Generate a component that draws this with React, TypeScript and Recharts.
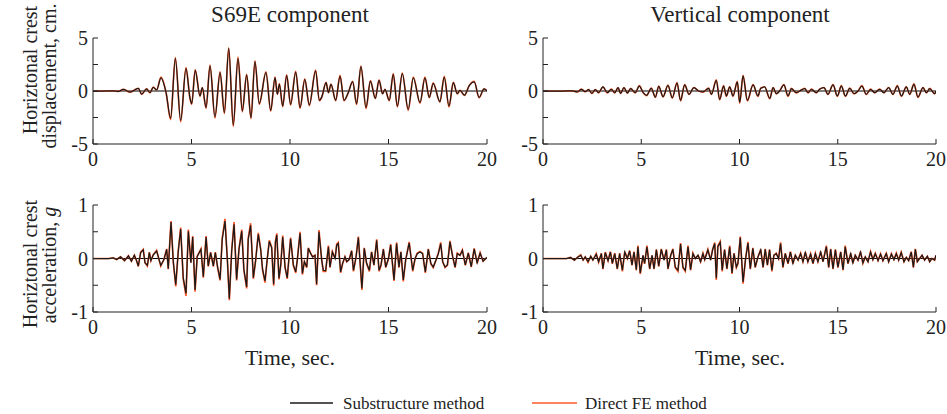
import React from "react";
import { LineChart, Line, XAxis, YAxis, ReferenceLine } from "recharts";

const SERIF = "'Liberation Serif', 'Times New Roman', serif";
const BLACK = "#1a1a1a";
const ORANGE = "#ff5a2a";

// ---------- Top-left: horizontal crest displacement, S69E component (cm) ----------
const dispS69ETime = [0,0.5,1.0,1.3,1.54,1.88,2.3,2.47,2.72,2.89,3.06,3.23,3.45,3.71,3.94,4.18,4.45,4.72,4.92,5.01,5.19,5.43,5.55,5.74,5.94,6.19,6.45,6.67,6.89,7.12,7.36,7.58,7.8,8.02,8.22,8.44,8.78,9.02,9.24,9.36,9.46,9.63,9.83,10.03,10.29,10.51,10.75,10.98,11.3,11.49,11.61,11.83,11.95,12.08,12.32,12.54,12.74,12.96,13.18,13.38,13.6,13.86,14.08,14.33,14.52,14.7,14.82,15.04,15.24,15.45,15.7,16.0,16.26,16.6,16.85,17.07,17.27,17.61,17.83,18.07,18.29,18.49,18.63,18.85,19.1,19.35,19.6,19.85,20];
const dispS69ESub = [0,0,0.02,-0.03,0.15,-0.1,0.25,-0.3,0.2,-0.15,0.35,0.1,1.25,-0.15,-2.58,3.08,-2.77,2.13,-0.63,-1.2,1.95,-0.47,0.31,-1.57,2.36,-2.45,1.73,-2.05,4.02,-3.21,3.08,-1.89,1.51,-2.52,2.76,-1.2,1.73,-1.83,1.25,-0.3,0.66,-1.42,1.47,-1.26,1.79,-1.57,1.1,-1.32,1.89,-0.88,-0.57,0.78,-0.15,0.62,-0.88,1.41,-0.88,-0.15,0.88,-1.2,2.29,-1.57,0.94,-0.69,1.0,-0.25,0.15,-0.88,1.57,-1.42,1.63,-1.73,1.25,-1.1,1.25,-0.6,0.72,-1.0,1.32,-1.42,0.78,-0.25,0.06,-0.4,0.5,0.85,-0.6,0.2,0];
const dispS69EFE = [0,0,0.02,-0.03,0.16,-0.11,0.26,-0.32,0.21,-0.16,0.37,0.1,1.3,-0.16,-2.7,3.15,-2.92,2.2,-0.66,-1.25,2.02,-0.5,0.33,-1.63,2.45,-2.55,1.8,-2.12,4.08,-3.35,3.2,-1.96,1.58,-2.6,2.85,-1.25,1.8,-1.9,1.3,-0.32,0.7,-1.48,1.53,-1.32,1.86,-1.64,1.15,-1.38,1.96,-0.92,-0.6,0.82,-0.16,0.65,-0.92,1.47,-0.92,-0.16,0.92,-1.26,2.36,-1.65,0.98,-0.72,1.05,-0.27,0.16,-0.92,1.64,-1.5,1.7,-1.82,1.31,-1.16,1.3,-0.63,0.76,-1.05,1.38,-1.5,0.82,-0.27,0.06,-0.42,0.53,0.9,-0.64,0.21,0];

// ---------- Top-right: horizontal crest displacement, vertical component (cm) ----------
const dispVertTime = [0,1.0,1.5,1.75,1.95,2.15,2.32,2.49,2.66,2.83,3.05,3.27,3.48,3.65,3.82,3.95,4.12,4.29,4.46,4.7,4.9,5.1,5.27,5.51,5.72,5.89,6.11,6.36,6.58,6.82,7.0,7.21,7.43,7.68,7.92,8.14,8.43,8.57,8.82,8.99,9.19,9.33,9.5,9.67,9.89,10.01,10.18,10.4,10.69,10.94,11.08,11.28,11.54,11.71,11.88,12.04,12.26,12.47,12.64,12.89,13.06,13.32,13.49,13.66,13.91,14.08,14.3,14.5,14.76,14.98,15.18,15.39,15.61,15.83,16.03,16.23,16.45,16.67,16.88,17.13,17.35,17.59,17.81,18.03,18.24,18.49,18.66,18.88,19.08,19.34,19.51,19.68,19.93,20];
const dispVertSub = [0,0,0.02,-0.08,0.16,-0.06,0.13,-0.22,0.13,-0.16,0.38,-0.16,0.16,-0.16,0.31,-0.22,0.31,-0.19,0.22,-0.16,0.47,-0.16,-0.41,0.25,-0.57,0.44,-0.53,0.53,-0.63,0.75,-0.88,0.57,-0.31,0.31,0.0,-0.09,0.25,-0.31,1.0,-0.79,0.47,-0.47,0.38,-0.47,0.85,-1.1,1.42,-0.88,0.57,-0.47,0.25,0.38,-0.69,0.31,-0.25,0,0.57,-0.47,0.22,-0.16,0,0.22,-0.16,0.16,-0.16,0.16,0.31,-0.31,0.57,-0.47,0.47,-0.47,0.25,-0.25,0,0.47,-0.31,0.16,-0.16,0.16,-0.16,0.31,-0.31,0.47,-0.47,0.38,-0.31,0.63,-0.57,0.31,-0.16,0.22,-0.25,0];
const dispVertFE = [0,0,0.02,-0.09,0.17,-0.07,0.14,-0.24,0.14,-0.17,0.4,-0.18,0.17,-0.17,0.33,-0.24,0.33,-0.2,0.24,-0.17,0.5,-0.17,-0.44,0.27,-0.6,0.47,-0.56,0.56,-0.67,0.79,-0.93,0.6,-0.33,0.33,0.0,-0.1,0.27,-0.33,1.05,-0.84,0.5,-0.5,0.4,-0.5,0.9,-1.16,1.48,-0.93,0.6,-0.5,0.27,0.4,-0.73,0.33,-0.27,0,0.6,-0.5,0.24,-0.17,0,0.24,-0.17,0.17,-0.17,0.17,0.33,-0.33,0.6,-0.5,0.5,-0.5,0.27,-0.27,0,0.5,-0.33,0.17,-0.17,0.17,-0.17,0.33,-0.33,0.5,-0.5,0.4,-0.33,0.67,-0.6,0.33,-0.17,0.24,-0.27,0];

// ---------- Bottom-left: horizontal crest acceleration, S69E component (g) ----------
const accS69ETime = [0,0.8,1.03,1.2,1.4,1.6,1.8,1.95,2.1,2.2,2.3,2.42,2.55,2.64,2.76,2.86,2.94,3.06,3.23,3.44,3.6,3.74,3.82,3.96,4.08,4.2,4.33,4.45,4.58,4.72,4.84,4.97,5.06,5.18,5.29,5.48,5.6,5.74,5.85,5.97,6.11,6.21,6.33,6.45,6.56,6.7,6.82,6.92,7.04,7.16,7.29,7.41,7.55,7.66,7.8,7.88,8.0,8.14,8.26,8.39,8.51,8.61,8.73,8.85,8.95,9.07,9.17,9.26,9.33,9.44,9.53,9.63,9.75,9.86,10.03,10.17,10.29,10.37,10.51,10.63,10.73,10.85,10.93,11.05,11.15,11.27,11.35,11.47,11.61,11.69,11.81,11.95,12.03,12.15,12.29,12.37,12.45,12.57,12.67,12.79,12.88,13.0,13.13,13.22,13.35,13.47,13.55,13.65,13.77,13.89,14.03,14.14,14.26,14.4,14.52,14.62,14.74,14.86,15.0,15.11,15.28,15.41,15.53,15.63,15.75,15.87,16.05,16.23,16.35,16.46,16.6,16.73,16.87,17.02,17.15,17.27,17.41,17.53,17.65,17.75,17.87,17.99,18.12,18.26,18.38,18.49,18.63,18.75,18.9,19.05,19.2,19.35,19.5,19.65,19.8,20];
const accS69ESub = [0,0,0.01,-0.02,0.03,-0.04,0.05,-0.05,0.06,-0.03,-0.14,0.11,0.16,-0.08,-0.13,0.11,-0.04,0.07,0.14,-0.13,-0.02,0.17,-0.19,0.68,-0.08,-0.49,0.14,0.55,-0.36,-0.65,0.51,-0.08,0.4,-0.59,0.04,0.17,-0.34,0.4,-0.14,0.11,-0.14,0.11,-0.17,-0.39,0.36,0.7,-0.02,-0.75,0.14,0.64,-0.39,0.17,0.51,-0.21,-0.53,0.36,0.62,-0.36,-0.02,0.45,0.17,-0.21,-0.42,0.01,0.32,0.2,-0.48,0.3,0.44,-0.37,-0.12,0.4,-0.16,-0.36,0.37,-0.12,-0.25,-0.03,0.47,-0.28,-0.06,-0.16,0.19,0.09,0.03,0.06,-0.48,0.5,-0.03,-0.22,-0.23,0.22,-0.16,0.12,0,0.25,0.28,-0.25,-0.09,0.03,-0.06,-0.02,0.14,-0.22,0.02,0.39,-0.03,-0.56,0.19,-0.09,-0.22,0.12,-0.12,0.34,-0.22,-0.12,0.17,-0.16,0,0.25,-0.4,0.28,-0.16,0.12,-0.4,-0.03,0.29,-0.22,0,0.09,0.12,0.09,-0.25,0.17,-0.09,-0.16,-0.03,0.09,0.28,-0.06,-0.16,-0.12,0.31,0.03,-0.16,0.09,0.06,0.15,-0.12,0.1,-0.15,0.18,-0.08,0.1,-0.05,0.02];
const accS69EFE = [0,0,0.01,-0.02,0.03,-0.04,0.05,-0.05,0.06,-0.03,-0.15,0.12,0.17,-0.08,-0.14,0.12,-0.04,0.07,0.15,-0.14,-0.02,0.18,-0.2,0.7,-0.08,-0.52,0.15,0.58,-0.38,-0.7,0.54,-0.08,0.42,-0.62,0.04,0.18,-0.36,0.42,-0.15,0.12,-0.15,0.12,-0.18,-0.41,0.38,0.74,-0.02,-0.78,0.15,0.68,-0.41,0.18,0.54,-0.22,-0.56,0.38,0.66,-0.38,-0.02,0.48,0.18,-0.22,-0.45,0.01,0.34,0.21,-0.51,0.32,0.47,-0.39,-0.13,0.43,-0.17,-0.38,0.39,-0.13,-0.27,-0.03,0.5,-0.3,-0.06,-0.17,0.2,0.1,0.03,0.06,-0.5,0.53,-0.03,-0.24,-0.24,0.24,-0.17,0.13,0,0.27,0.3,-0.27,-0.1,0.03,-0.06,-0.02,0.15,-0.24,0.02,0.41,-0.03,-0.59,0.2,-0.1,-0.24,0.13,-0.13,0.36,-0.24,-0.13,0.18,-0.17,0,0.27,-0.42,0.3,-0.17,0.13,-0.43,-0.03,0.31,-0.24,0,0.1,0.13,0.1,-0.27,0.18,-0.1,-0.17,-0.03,0.1,0.3,-0.06,-0.17,-0.13,0.33,0.03,-0.17,0.1,0.06,0.16,-0.13,0.11,-0.16,0.19,-0.09,0.11,-0.05,0.02];

// ---------- Bottom-right: horizontal crest acceleration, vertical component (g) ----------
const accVertTime = [0,1.2,1.4,1.6,1.78,1.92,2.04,2.15,2.29,2.43,2.54,2.71,2.83,2.97,3.05,3.17,3.31,3.43,3.53,3.65,3.78,3.9,4.04,4.16,4.29,4.41,4.53,4.63,4.75,4.83,4.95,5.09,5.17,5.29,5.43,5.55,5.65,5.77,5.89,6.02,6.16,6.28,6.36,6.5,6.61,6.73,6.87,7.0,7.12,7.24,7.38,7.51,7.63,7.75,7.89,8.02,8.14,8.23,8.39,8.53,8.63,8.74,8.82,8.9,9.02,9.12,9.24,9.36,9.5,9.62,9.72,9.84,9.92,10.04,10.18,10.3,10.43,10.55,10.68,10.8,10.94,11.08,11.2,11.31,11.42,11.53,11.65,11.75,11.87,11.99,12.09,12.21,12.33,12.47,12.59,12.72,12.84,12.98,13.11,13.23,13.35,13.48,13.62,13.74,13.86,13.99,14.13,14.25,14.42,14.54,14.64,14.76,14.88,15.01,15.15,15.27,15.38,15.52,15.66,15.77,15.89,16.03,16.16,16.28,16.4,16.54,16.67,16.79,16.91,17.05,17.18,17.3,17.47,17.59,17.73,17.86,17.98,18.1,18.23,18.37,18.49,18.61,18.74,18.85,18.95,19.05,19.17,19.29,19.42,19.56,19.68,19.79,19.93,20];
const accVertSub = [0,0,0.02,-0.03,0.03,0.06,-0.03,0.03,-0.06,0.04,-0.03,0.08,-0.06,0.09,-0.19,0.11,-0.04,0.12,-0.09,0.09,-0.19,0.09,-0.22,0.12,0,0.14,-0.12,0.12,-0.21,0.22,-0.27,0.06,-0.09,0.22,-0.19,0.06,-0.19,0.16,-0.14,0.17,-0.03,0.16,-0.19,0.06,0.17,-0.16,-0.22,0.27,-0.16,-0.22,0.22,-0.21,0.09,0,0.06,-0.06,0.09,-0.02,0.16,-0.03,0.16,0.28,-0.37,0.22,0.3,-0.22,0.16,-0.19,0.22,-0.27,0.09,-0.16,-0.09,0.39,-0.44,-0.03,0.29,-0.19,0.19,-0.16,0.03,0.16,-0.16,0.17,-0.12,0.16,-0.22,0.06,0.09,0,0.28,-0.16,0.09,-0.09,0.12,-0.09,0.06,-0.03,0.09,-0.06,0.11,-0.06,0.08,-0.09,0.09,-0.06,0.12,-0.06,0.22,-0.16,0.17,-0.19,0.16,-0.16,0.12,-0.21,0.22,-0.09,0.09,-0.08,0.06,-0.03,0.12,-0.08,0.03,-0.06,0.12,-0.02,0.09,-0.04,0.08,-0.04,0.09,-0.06,0.08,-0.02,0.09,-0.03,0.11,-0.06,0.02,-0.04,0.12,-0.16,0.17,-0.06,0,0.06,-0.03,0.04,-0.06,0,-0.03,0.06];
const accVertFE = [0,0,0.02,-0.03,0.03,0.07,-0.03,0.03,-0.07,0.04,-0.03,0.09,-0.07,0.1,-0.2,0.12,-0.04,0.13,-0.1,0.1,-0.2,0.1,-0.24,0.13,0,0.15,-0.13,0.13,-0.22,0.24,-0.29,0.06,-0.1,0.24,-0.2,0.06,-0.2,0.17,-0.15,0.18,-0.03,0.17,-0.2,0.06,0.18,-0.17,-0.24,0.29,-0.17,-0.24,0.24,-0.22,0.1,0,0.06,-0.06,0.1,-0.02,0.17,-0.03,0.17,0.3,-0.4,0.24,0.32,-0.24,0.17,-0.2,0.24,-0.29,0.1,-0.17,-0.1,0.41,-0.47,-0.03,0.31,-0.2,0.2,-0.17,0.03,0.17,-0.17,0.18,-0.13,0.17,-0.24,0.06,0.1,0,0.3,-0.17,0.1,-0.1,0.13,-0.1,0.06,-0.03,0.1,-0.06,0.12,-0.06,0.09,-0.1,0.1,-0.06,0.13,-0.06,0.24,-0.17,0.18,-0.2,0.17,-0.17,0.13,-0.22,0.24,-0.1,0.1,-0.09,0.06,-0.03,0.13,-0.09,0.03,-0.06,0.13,-0.02,0.1,-0.04,0.09,-0.04,0.1,-0.06,0.09,-0.02,0.1,-0.03,0.12,-0.06,0.02,-0.04,0.13,-0.17,0.18,-0.06,0,0.06,-0.03,0.04,-0.06,0,-0.03,0.06];

// ---------- Axis ticks / labels ----------
const xTicks = [0, 5, 10, 15, 20];
const dispTicks = [-5, -2.5, 0, 2.5, 5];
const dispTickLabels = [-5, 0, 5];
const accTicks = [-1, -0.5, 0, 0.5, 1];
const accTickLabels = [-1, 0, 1];
const panelTitles = ["S69E component", "Vertical component"];
const xAxisTitle = "Time, sec.";
const legendNames = ["Substructure method", "Direct FE method"];

function buildRows(t: number[], a: number[], b: number[]) {
  const n = Math.min(t.length, a.length, b.length);
  const rows: { t: number; sub: number; fe: number }[] = [];
  for (let i = 0; i < n; i++) rows.push({ t: t[i], sub: a[i], fe: b[i] });
  return rows;
}

const AXIS = "#222";
const TL = 5;

const BottomTick = (p: any) => (
  <g>
    <line x1={p.x} y1={p.y} x2={p.x} y2={p.y - TL} stroke={AXIS} strokeWidth={1} />
    <text x={p.x} y={p.y + 22} textAnchor="middle" fontSize={20} fontFamily={SERIF} fill={AXIS}>
      {p.payload.value}
    </text>
  </g>
);
const TopTick = (p: any) => (
  <line x1={p.x} y1={p.y} x2={p.x} y2={p.y + TL} stroke={AXIS} strokeWidth={1} />
);
const makeLeftTick = (labels: number[]) => (p: any) => (
  <g>
    <line x1={p.x} y1={p.y} x2={p.x + TL} y2={p.y} stroke={AXIS} strokeWidth={1} />
    {labels.includes(p.payload.value) ? (
      <text x={p.x - 5} y={p.y + 7} textAnchor="end" fontSize={20} fontFamily={SERIF} fill={AXIS}>
        {p.payload.value}
      </text>
    ) : null}
  </g>
);
const RightTick = (p: any) => (
  <line x1={p.x} y1={p.y} x2={p.x - TL} y2={p.y} stroke={AXIS} strokeWidth={1} />
);

type PanelProps = {
  px: number; py: number; pw: number; ph: number;
  rows: { t: number; sub: number; fe: number }[];
  yMax: number; yTicks: number[]; yLabels: number[];
  curve: "monotone" | "linear";
};

const YW = 53, MT = 10, MR = 10, XH = 32;

function Panel({ px, py, pw, ph, rows, yMax, yTicks, yLabels, curve }: PanelProps) {
  return (
    <div style={{ position: "absolute", left: px - YW, top: py - MT }}>
      <LineChart width={pw + YW + MR} height={ph + MT + XH} data={rows}
        margin={{ top: MT, right: MR, left: 0, bottom: 0 }}>
        <XAxis xAxisId="b" dataKey="t" type="number" domain={[0, 20]} ticks={xTicks} interval={0}
          allowDataOverflow tickSize={0} tickMargin={0} height={XH}
          axisLine={{ stroke: AXIS, strokeWidth: 1 }} tickLine={false} tick={BottomTick} />
        <XAxis xAxisId="t" orientation="top" dataKey="t" type="number" domain={[0, 20]} ticks={xTicks}
          interval={0} allowDataOverflow tickSize={0} tickMargin={0} height={0}
          axisLine={{ stroke: AXIS, strokeWidth: 1 }} tickLine={false} tick={TopTick} />
        <YAxis yAxisId="l" type="number" domain={[-yMax, yMax]} ticks={yTicks} interval={0}
          allowDataOverflow tickSize={0} tickMargin={0} width={YW}
          axisLine={{ stroke: AXIS, strokeWidth: 1 }} tickLine={false} tick={makeLeftTick(yLabels)} />
        <YAxis yAxisId="r" orientation="right" type="number" domain={[-yMax, yMax]} ticks={yTicks}
          interval={0} allowDataOverflow tickSize={0} tickMargin={0} width={0}
          axisLine={{ stroke: AXIS, strokeWidth: 1 }} tickLine={false} tick={RightTick} />
        <ReferenceLine xAxisId="b" yAxisId="l" y={0} stroke="#000" strokeWidth={1} />
        <Line xAxisId="b" yAxisId="l" type={curve} dataKey="fe" stroke={ORANGE} strokeWidth={1.7}
          dot={false} isAnimationActive={false} />
        <Line xAxisId="b" yAxisId="l" type={curve} dataKey="sub" stroke={BLACK} strokeWidth={1.25}
          dot={false} isAnimationActive={false} />
      </LineChart>
    </div>
  );
}

export default function App() {
  const L = { px: 93, pw: 394 };
  const R = { px: 543, pw: 393 };
  const T = { py: 38, ph: 106 };
  const B = { py: 205, ph: 107 };
  return (
    <div style={{ position: "absolute", left: 0, top: 0, width: 947, height: 414, background: "#fff", overflow: "hidden" }}>
      <Panel {...L} {...T} rows={buildRows(dispS69ETime, dispS69ESub, dispS69EFE)} yMax={5}
        yTicks={dispTicks} yLabels={dispTickLabels} curve="monotone" />
      <Panel {...R} {...T} rows={buildRows(dispVertTime, dispVertSub, dispVertFE)} yMax={5}
        yTicks={dispTicks} yLabels={dispTickLabels} curve="monotone" />
      <Panel {...L} {...B} rows={buildRows(accS69ETime, accS69ESub, accS69EFE)} yMax={1}
        yTicks={accTicks} yLabels={accTickLabels} curve="linear" />
      <Panel {...R} {...B} rows={buildRows(accVertTime, accVertSub, accVertFE)} yMax={1}
        yTicks={accTicks} yLabels={accTickLabels} curve="linear" />
      <svg width={947} height={414} style={{ position: "absolute", left: 0, top: 0, pointerEvents: "none" }}
        fontFamily={SERIF} fill={AXIS}>
        <text x={290} y={22} textAnchor="middle" fontSize={23}>{panelTitles[0]}</text>
        <text x={740} y={22} textAnchor="middle" fontSize={23}>{panelTitles[1]}</text>
        <text x={290} y={365} textAnchor="middle" fontSize={22}>{xAxisTitle}</text>
        <text x={740} y={365} textAnchor="middle" fontSize={22}>{xAxisTitle}</text>
        <text transform="translate(37,70) rotate(-90)" textAnchor="middle" fontSize={20}>Horiztonal crest</text>
        <text transform="translate(56,76) rotate(-90)" textAnchor="middle" fontSize={20}>displacement, cm.</text>
        <text transform="translate(37,264) rotate(-90)" textAnchor="middle" fontSize={20}>Horiztonal crest</text>
        <text transform="translate(56,265) rotate(-90)" textAnchor="middle" fontSize={20}>
          acceleration, <tspan fontStyle="italic">g</tspan>
        </text>
        <line x1={290} x2={333} y1={403} y2={403} stroke={BLACK} strokeWidth={1.5} />
        <text x={343} y={409} fontSize={17}>{legendNames[0]}</text>
        <line x1={532} x2={577} y1={403} y2={403} stroke={ORANGE} strokeWidth={1.5} />
        <text x={585} y={409} fontSize={17}>{legendNames[1]}</text>
      </svg>
    </div>
  );
}
